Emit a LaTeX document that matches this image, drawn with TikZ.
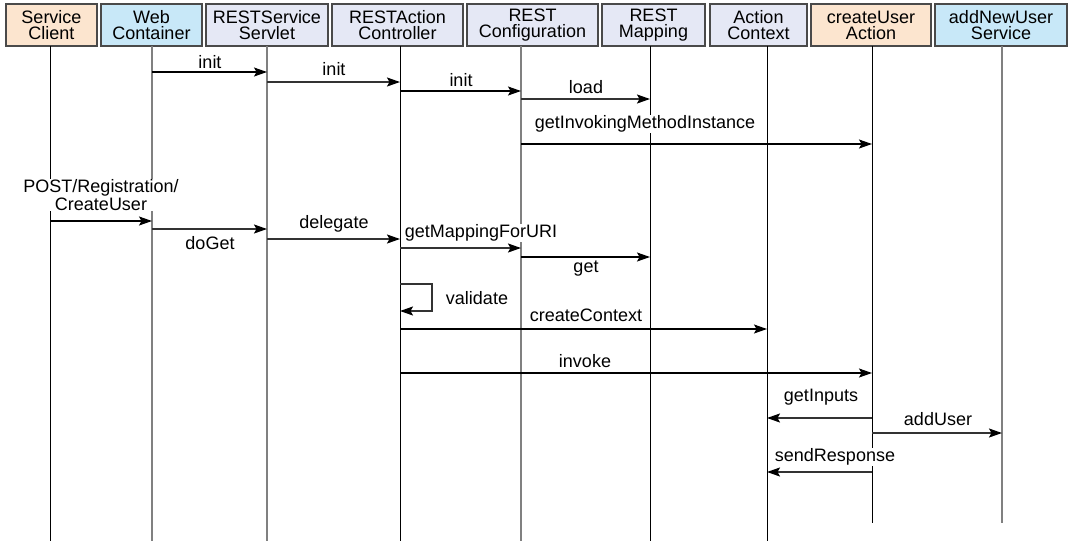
\documentclass[tikz,border=0pt]{standalone}
\usepackage{fontspec}
\setmainfont{Liberation Sans}
\usetikzlibrary{arrows.meta}
\definecolor{peach}{HTML}{FCE5CF}
\definecolor{skyblue}{HTML}{C8E8F8}
\definecolor{lavender}{HTML}{E5E8F5}
\definecolor{frame}{HTML}{4A4A4A}
\definecolor{lifegray}{HTML}{808080}
\definecolor{msggray}{HTML}{333333}

\begin{document}
\begin{tikzpicture}[
		x=1pt, y=-1pt,
		>={Stealth[length=13pt,width=9pt,inset=2.5pt,color=black]},
		font=\fontsize{18}{16}\selectfont,
		head/.style={rectangle, draw=frame, line width=1.8pt, minimum height=42pt, inner sep=0pt, align=center},
		lifeline/.style={line width=1pt},
		grayline/.style={line width=2pt, draw=lifegray},
		msg/.style={->, line width=1.2pt},
		graymsg/.style={->, line width=1.7pt, draw=msggray},
		lbl/.style={fill=white, inner sep=1pt, align=center}]

	\useasboundingbox (0,0) rectangle (1074,547);

	\node[head, fill=peach, minimum width=91pt] (service_client) at (51.5,25) {Service\\Client};
	\node[head, fill=skyblue, minimum width=101pt] (web_container) at (151.5,25) {Web\\Container};
	\node[head, fill=lavender, minimum width=122pt] (rest_servlet) at (267,25) {RESTService\\Servlet};
	\node[head, fill=lavender, minimum width=131pt] (action_controller) at (397.5,25) {RESTAction\\Controller};
	\node[head, fill=lavender, minimum width=131pt] (rest_config) at (532.5,25) {REST\\Configuration};
	\node[head, fill=lavender, minimum width=103pt] (rest_mapping) at (653.5,25) {REST\\Mapping};
	\node[head, fill=lavender, minimum width=97pt] (action_context) at (758.5,25) {Action\\Context};
	\node[head, fill=peach, minimum width=120pt] (create_user) at (871,25) {createUser\\Action};
	\node[head, fill=skyblue, minimum width=132pt] (user_service) at (1001,25) {addNewUser\\Service};

	\coordinate (client_line) at (50,46);
	\coordinate (web_line) at (152,46);
	\coordinate (servlet_line) at (267,46);
	\coordinate (controller_line) at (400,46);
	\coordinate (config_line) at (521,46);
	\coordinate (mapping_line) at (650,46);
	\coordinate (context_line) at (767,46);
	\coordinate (action_line) at (872,46);
	\coordinate (service_line) at (1002,46);

	\draw[lifeline] (client_line) -- ++(0,495);
	\draw[grayline] (web_line) -- ++(0,495);
	\draw[grayline] (servlet_line) -- ++(0,495);
	\draw[lifeline] (controller_line) -- ++(0,495);
	\draw[grayline] (config_line) -- ++(0,495);
	\draw[lifeline] (mapping_line) -- ++(0,495);
	\draw[lifeline] (context_line) -- ++(0,495);
	\draw[lifeline] (action_line) -- ++(0,477);
	\draw[grayline] (service_line) -- ++(0,477);

	\draw[msg] (web_line |- 0,72) -- (servlet_line |- 0,72);
	\draw[graymsg] (servlet_line |- 0,82) -- (controller_line |- 0,82);
	\draw[msg] (controller_line |- 0,91) -- (config_line |- 0,91);
	\draw[graymsg] (config_line |- 0,99) -- (mapping_line |- 0,99);
	\draw[msg] (config_line |- 0,144) -- (action_line |- 0,144);
	\draw[msg] (client_line |- 0,221) -- (web_line |- 0,221);
	\draw[graymsg] (web_line |- 0,229) -- (servlet_line |- 0,229);
	\draw[graymsg] (servlet_line |- 0,239) -- (controller_line |- 0,239);
	\draw[graymsg] (controller_line |- 0,248) -- (config_line |- 0,248);
	\draw[msg] (config_line |- 0,257) -- (mapping_line |- 0,257);
	\draw[graymsg] (controller_line |- 0,284) -- ++(32,0) |- (controller_line |- 0,311);
	\draw[msg] (controller_line |- 0,329) -- (context_line |- 0,329);
	\draw[msg] (controller_line |- 0,373) -- (action_line |- 0,373);
	\draw[graymsg] (action_line |- 0,418) -- (context_line |- 0,418);
	\draw[graymsg] (action_line |- 0,433) -- (service_line |- 0,433);
	\draw[graymsg] (action_line |- 0,472) -- (context_line |- 0,472);

	\node[lbl] (init_servlet) at (210,62) {init};
	\node[lbl] (init_controller) at (334,69) {init};
	\node[lbl] (init_config) at (461,80) {init};
	\node[lbl] (load) at (586,87) {load};
	\node[lbl] (get_invoking) at (645,124) {getInvokingMethodInstance};
	\node[lbl] (post_request) at (101,195) {POST/Registration/\\CreateUser};
	\node[lbl] (do_get) at (210,243) {doGet};
	\node[lbl] (delegate) at (334,224) {delegate};
	\node[lbl] (get_mapping) at (481,233) {getMappingForURI};
	\node[lbl] (get) at (586,269) {get};
	\node[lbl] (validate) at (477,298) {validate};
	\node[lbl] (create_context) at (586,315) {createContext};
	\node[lbl] (invoke) at (585,361) {invoke};
	\node[lbl] (get_inputs) at (821,397) {getInputs};
	\node[lbl] (add_user) at (938,419) {addUser};
	\node[lbl] (send_response) at (835,457) {sendResponse};

\end{tikzpicture}
\end{document}
